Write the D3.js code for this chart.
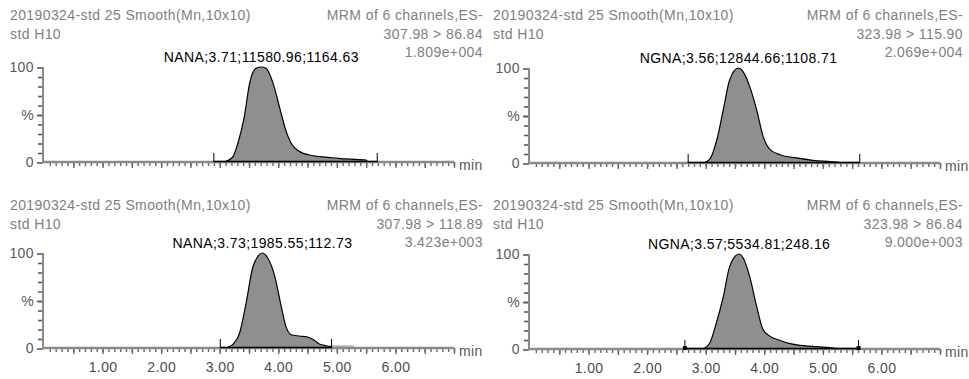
<!DOCTYPE html>
<html>
<head>
<meta charset="utf-8">
<script src="https://cdn.jsdelivr.net/npm/d3@7"></script>
<style>
  body { margin: 0; background: #fff; }
  svg { display: block; font-family: "Liberation Sans", Arial, sans-serif; }
  text { font-size: 14px; letter-spacing: 0.4px; }
</style>
</head>
<body>
<div id="chart"></div>
<script>
// header text shared by all four traces
const sampleName = "20190324-std 25 Smooth(Mn,10x10)";
const sampleId = "std H10";
const scanInfo = "MRM of 6 channels,ES-";

// one entry per panel: top-left, top-right, bottom-left, bottom-right
const transitions = ["307.98 > 86.84", "323.98 > 115.90", "307.98 > 118.89", "323.98 > 86.84"];
const maxIntensity = ["1.809e+004", "2.069e+004", "3.423e+003", "9.000e+003"];
const peakLabels = [
  "NANA;3.71;11580.96;1164.63",
  "NGNA;3.56;12844.66;1108.71",
  "NANA;3.73;1985.55;112.73",
  "NGNA;3.57;5534.81;248.16"
];
const peakApex = [3.71, 3.56, 3.73, 3.57];
const integStart = [2.90, 2.70, 3.01, 2.645];
const integEnd = [5.69, 5.63, 4.91, 5.61];
const endMarkers = [false, false, false, true];

// traces (time in min, relative intensity in %)
const tlTime = [3.08, 3.22, 3.31, 3.42, 3.51, 3.62, 3.71, 3.79, 3.91, 4.02, 4.11, 4.22, 4.36, 4.53, 4.70, 4.93, 5.16, 5.50, 5.52];
const tlPct  = [0, 5, 19.7, 47.7, 82.8, 98.6, 100, 98.6, 83, 58, 37, 19.7, 11, 7.4, 5.6, 4.5, 3.2, 2, 0];
const trTime = [2.96, 3.07, 3.19, 3.30, 3.41, 3.56, 3.64, 3.75, 3.87, 3.98, 4.10, 4.27, 4.55, 4.83, 5.12, 5.29, 5.31];
const trPct  = [0, 4, 24.5, 56, 87.7, 100, 96, 80.7, 56, 28, 14, 8.7, 5.3, 2.8, 1.4, 0.5, 0];
const blTime = [3.11, 3.22, 3.34, 3.45, 3.57, 3.73, 3.82, 3.94, 4.05, 4.13, 4.22, 4.36, 4.50, 4.62, 4.70, 4.82, 4.91];
const blPct  = [0, 3.5, 15.8, 47, 86, 100, 94.7, 75.4, 43.8, 22.7, 14, 12.6, 11.6, 8, 4.2, 2.4, 1.5];
const brTime = [2.96, 3.07, 3.18, 3.30, 3.41, 3.57, 3.64, 3.75, 3.87, 3.98, 4.10, 4.27, 4.44, 4.61, 4.83, 5.06, 5.23, 5.25];
const brPct  = [0, 6.3, 27, 55, 87, 100, 95.8, 76.4, 44.8, 20.3, 13.3, 9, 5.6, 3.8, 2.8, 1.7, 0.5, 0];
// residual signal after the integration window (bottom-left only)
const blTailTime = [4.91, 5.29];
const blTailPct = [1.2, 1.2];

const traceTimes = [tlTime, trTime, blTime, brTime];
const tracePcts = [tlPct, trPct, blPct, brPct];

const xTickLabels = [1, 2, 3, 4, 5, 6];
const yTickLabels = { 0: "0", 50: "%", 100: "100" };

const width = 969, height = 379;
const colX = [44, 530];          // left edge of the time axis per column
const rowTop = [0, 190];          // top of the text block per row
const rowPlot = [[162, 67], [348, 253]]; // y of 0% and 100% per row

const grey = "#808080";
const axisGrey = "#8a8a8a";
const tickGrey = "#666";

const svg = d3.select("#chart").append("svg")
  .attr("width", width)
  .attr("height", height);

for (let i = 0; i < 4; i++) {
  const col = i % 2, row = Math.floor(i / 2);
  const dy = col; // right column sits one pixel lower
  const x = d3.scaleLinear().domain([0, 7]).range([colX[col], colX[col] + 410]);
  const y = d3.scaleLinear().domain([0, 100]).range([rowPlot[row][0] + dy, rowPlot[row][1] + dy]);
  const g = svg.append("g");
  const top = rowTop[row];
  const left = col === 0 ? 10 : 493;
  const right = col === 0 ? 483 : 963;

  // header
  g.append("text").attr("x", left).attr("y", top + 20).attr("fill", grey).text(sampleName);
  g.append("text").attr("x", left).attr("y", top + 39).attr("fill", grey).text(sampleId);
  g.append("text").attr("x", right).attr("y", top + 20).attr("fill", grey)
    .attr("text-anchor", "end").text(scanInfo);
  g.append("text").attr("x", right).attr("y", top + 39).attr("fill", grey)
    .attr("text-anchor", "end").text(transitions[i]);
  g.append("text").attr("x", right).attr("y", top + 57).attr("fill", grey)
    .attr("text-anchor", "end").text(maxIntensity[i]);

  // peak
  const pts = traceTimes[i].map((t, k) => [t, tracePcts[i][k]]);
  const area = d3.area().x(d => x(d[0])).y0(y(0)).y1(d => y(d[1])).curve(d3.curveMonotoneX);
  const line = d3.line().x(d => x(d[0])).y(d => y(d[1])).curve(d3.curveMonotoneX);

  if (i === 2) {
    const tail = blTailTime.map((t, k) => [t, blTailPct[k]]);
    g.append("path").attr("d", line(tail)).attr("stroke", "#b5b5b5").attr("stroke-width", 3).attr("fill", "none");
  }

  g.append("path").attr("d", area(pts)).attr("fill", "#8f8f8f");

  // axes: minor every 0.1 min / 10 %, major every 0.5 min / 50 %
  const base = Math.round(y(0));
  const xMinor = d3.axisBottom(x).tickValues(d3.range(1, 71).map(k => k / 10)).tickSize(4).tickSizeOuter(0).tickFormat("");
  const xMajor = d3.axisBottom(x).tickValues(d3.range(1, 15).map(k => k / 2)).tickSize(6).tickSizeOuter(0).tickPadding(8)
    .tickFormat(d => (row === 1 && xTickLabels.includes(d)) ? d.toFixed(2) : "");
  const yMinor = d3.axisLeft(y).tickValues(d3.range(10, 100, 10)).tickSize(5).tickSizeOuter(0).tickFormat(() => "");
  const yMajor = d3.axisLeft(y).tickValues([0, 50, 100]).tickSize(6).tickSizeOuter(0).tickPadding(3)
    .tickFormat(d => yTickLabels[d]);

  [xMinor, xMajor].forEach(ax => {
    const a = g.append("g").attr("transform", `translate(0,${base})`).call(ax);
    a.select(".domain").remove();
    a.selectAll(".tick line").attr("stroke", tickGrey).attr("stroke-width", 1.4);
    a.selectAll("text").attr("fill", "#4d4d4d").style("font-size", "14px").attr("font-family", null);
  });
  [yMinor, yMajor].forEach(ax => {
    const a = g.append("g").attr("transform", `translate(${x(0) - 1},0.5)`).call(ax);
    a.select(".domain").remove();
    a.selectAll(".tick line").attr("stroke", "#5a5a5a").attr("stroke-width", 1.6);
    a.selectAll("text").attr("fill", "#595959").style("font-size", "14px").attr("font-family", null);
  });
  g.append("line").attr("x1", x(0) - 2).attr("x2", x(7)).attr("y1", base).attr("y2", base)
    .attr("stroke", axisGrey).attr("stroke-width", 2.5);
  g.append("line").attr("x1", x(0) - 1).attr("x2", x(0) - 1).attr("y1", base).attr("y2", y(100))
    .attr("stroke", axisGrey).attr("stroke-width", 2);
  g.append("text").attr("x", x(7) + 5).attr("y", y(0) + 8).attr("fill", "#595959").text("min");

  // integration baseline and peak outline
  g.append("line").attr("x1", x(integStart[i])).attr("x2", x(integEnd[i]))
    .attr("y1", base - 0.5).attr("y2", base - 0.5).attr("stroke", "#000").attr("stroke-width", 1.5);
  g.append("path").attr("d", line(pts)).attr("fill", "none").attr("stroke", "#000").attr("stroke-width", 1.2);
  [integStart[i], integEnd[i]].forEach(t => {
    g.append("line").attr("x1", x(t)).attr("x2", x(t)).attr("y1", base).attr("y2", base - 9)
      .attr("stroke", "#000").attr("stroke-width", 1);
    if (endMarkers[i]) {
      g.append("rect").attr("x", x(t) - 2).attr("y", base - 3).attr("width", 4).attr("height", 4).attr("fill", "#000");
    }
  });

  g.append("text").attr("x", x(peakApex[i])).attr("y", y(100) - 5)
    .attr("text-anchor", "middle").attr("fill", "#000").text(peakLabels[i]);
}
</script>
</body>
</html>
